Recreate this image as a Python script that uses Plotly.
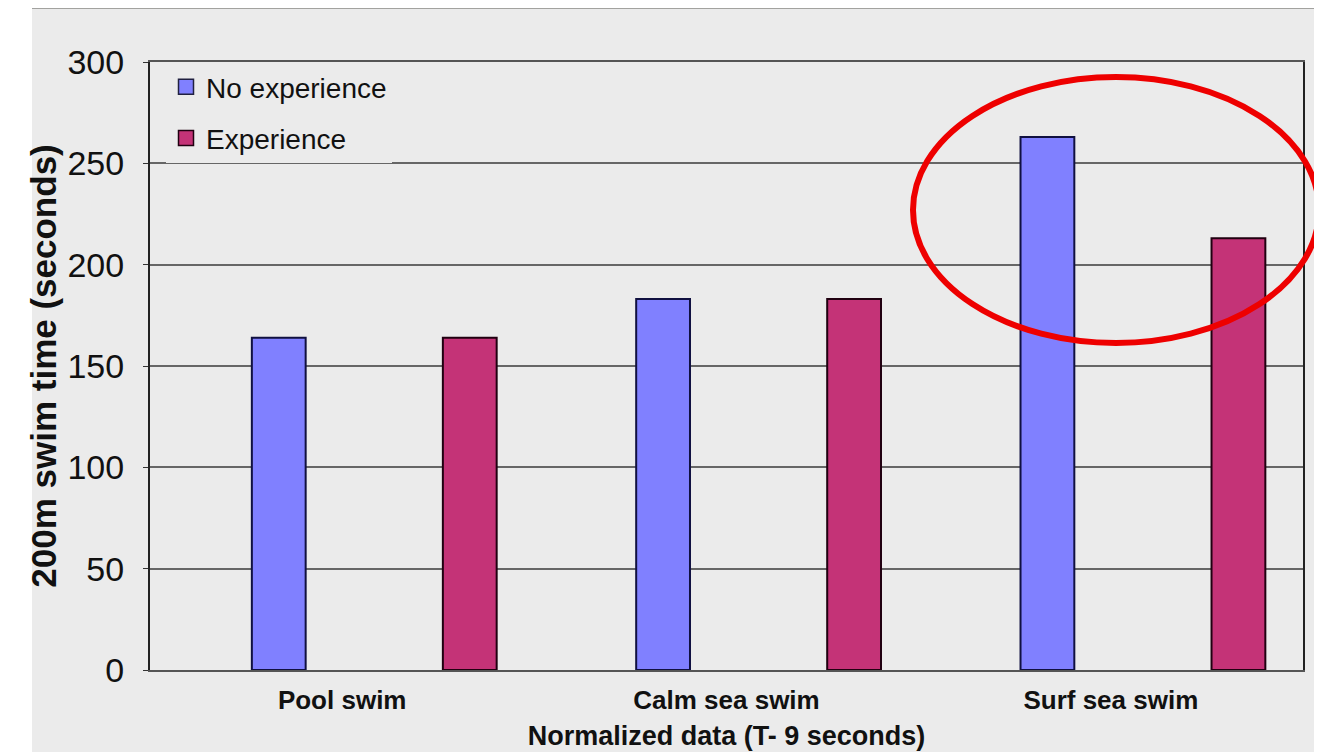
import plotly.graph_objects as go

categories = ["Pool swim", "Calm sea swim", "Surf sea swim"]
no_experience = [164, 183, 263]
experience = [164, 183, 213]
y_ticks = [0, 50, 100, 150, 200, 250, 300]

W, H = 1322, 752
OFF = 8  # page offset of the figure inside the browser window
L, R, T, B = 150 - OFF, 1303 - OFF, 62 - OFF, 670 - OFF
pw, ph = R - L, B - T

def px_x(p):
    return (p - OFF - L) / pw

def px_y(p):
    return (B - (p - OFF)) / ph

BG = "#ebebeb"
BLUE = "#8080ff"
MAGENTA = "#c43377"
font_family = "Liberation Sans, Arial, sans-serif"

fig = go.Figure()
fig.add_trace(go.Bar(
    x=categories, y=no_experience, name="No experience", showlegend=False,
    marker=dict(color=BLUE, line=dict(color="#101040", width=2)),
    width=0.14, offset=-0.235,
))
fig.add_trace(go.Bar(
    x=categories, y=experience, name="Experience", showlegend=False,
    marker=dict(color=MAGENTA, line=dict(color="#200010", width=2)),
    width=0.14, offset=0.262,
))
# legend entries with larger square keys
fig.add_trace(go.Scatter(
    x=[None], y=[None], mode="markers", name="No experience", legendgroup="a",
    marker=dict(symbol="square", size=15, color=BLUE, line=dict(color="#202040", width=1.5)),
))
fig.add_trace(go.Scatter(
    x=[None], y=[None], mode="markers", name="Experience", legendgroup="b",
    marker=dict(symbol="square", size=15, color=MAGENTA, line=dict(color="#200010", width=1.5)),
))

shapes = [
    dict(type="rect", xref="paper", yref="paper", layer="below",
         x0=px_x(32), x1=px_x(1314), y0=px_y(8), y1=px_y(770),
         fillcolor=BG, line=dict(width=0)),
    dict(type="line", xref="paper", yref="paper",
         x0=px_x(32), x1=px_x(1314), y0=px_y(7.5), y1=px_y(7.5),
         line=dict(color="#5a5a55", width=2)),
    dict(type="circle", xref="paper", yref="paper", layer="above",
         x0=px_x(913), x1=px_x(1319), y0=px_y(343), y1=px_y(77),
         line=dict(color="#ee0000", width=6)),
]

fig.update_layout(
    width=W, height=H,
    margin=dict(l=L, r=W - R, t=T, b=H - B),
    paper_bgcolor="white", plot_bgcolor=BG,
    font=dict(family=font_family, color="#111111"),
    barmode="group",
    showlegend=True,
    legend=dict(
        x=px_x(166), y=px_y(62), xanchor="left", yanchor="top",
        bgcolor=BG, font=dict(size=28, family=font_family, color="#111111"),
        tracegroupgap=12, itemsizing="trace", traceorder="grouped",
        entrywidth=205, entrywidthmode="pixels",
    ),
    shapes=shapes,
    xaxis=dict(
        type="category", range=[-0.5, 2.5],
        showgrid=False, ticks="", showline=True, linecolor="#555555", linewidth=2,
        mirror=True, ticklabelstandoff=6,
        tickfont=dict(size=26, family=font_family, color="#111111", weight="bold"),
        title=dict(text="<b>Normalized data (T- 9 seconds)</b>", standoff=12,
                   font=dict(size=27, family=font_family, color="#111111")),
    ),
    yaxis=dict(
        range=[0, 300], tickvals=y_ticks, showgrid=True, gridcolor="#666666",
        gridwidth=1.5, zeroline=False,
        showline=True, linecolor="#222222", linewidth=2, mirror=True,
        ticks="outside", ticklen=5, tickcolor="#333333",
        ticklabelstandoff=12,
        tickfont=dict(size=34, family=font_family, color="#111111"),
        title=dict(text="<b>200m swim time (seconds)</b>", standoff=0,
                   font=dict(size=35, family=font_family, color="#111111")),
    ),
)

fig.write_html("out.html")
